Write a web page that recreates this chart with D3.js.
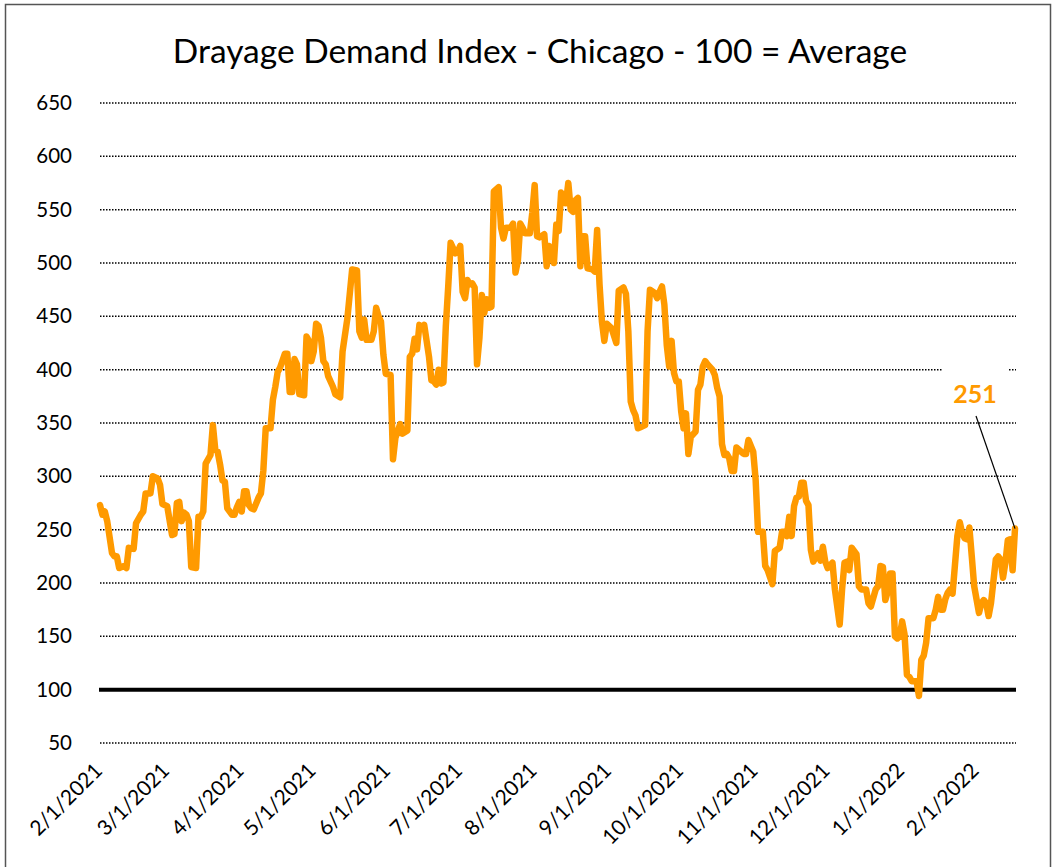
<!DOCTYPE html>
<html><head><meta charset="utf-8">
<script src="https://cdn.jsdelivr.net/npm/d3@7"></script>
<style>body{margin:0;background:#fff}</style>
</head><body><svg id="c" width="1056" height="867"></svg>
<script>
const title = "Drayage Demand Index - Chicago - 100 = Average";
const startDate = "2021-02-01";
const dayOffsets = [0,1,2,3,5,6,7,8,10,11,12,14,15,17,18,19,21,22,24,25,26,28,30,31,32,33,34,35,36,37,38,40,41,42,43,44,46,47,48,49,50,51,52,53,55,56,57,58,59,60,61,62,63,64,66,67,68,69,71,72,73,74,75,77,78,79,80,81,82,83,85,86,87,88,89,90,91,92,93,94,95,97,98,100,101,103,105,107,108,109,110,111,113,114,115,116,117,118,119,121,122,123,125,126,128,129,130,131,132,133,134,135,137,138,139,140,141,142,143,144,145,146,148,149,150,151,152,153,154,155,156,157,158,159,160,161,162,163,164,166,167,168,169,171,172,173,174,175,176,177,179,180,181,182,183,185,186,187,189,190,191,192,193,194,195,196,197,198,199,200,201,202,203,205,206,207,208,209,210,211,213,215,216,218,219,220,221,222,223,224,225,227,228,229,231,232,233,234,235,236,237,238,239,240,241,242,243,244,245,246,248,249,250,251,252,253,255,256,257,258,259,260,261,262,263,264,265,267,268,269,270,272,273,274,276,277,278,280,281,283,284,285,286,287,288,289,290,291,292,293,294,295,296,297,299,300,301,302,303,305,306,308,309,310,311,312,313,315,316,317,319,320,321,323,324,325,326,327,328,329,330,331,332,333,334,335,336,337,338,340,341,342,343,344,345,347,348,349,350,351,352,353,354,355,356,357,358,359,360,361,362,363,364,366,367,368,369,370,371,373,374,375,376,377,378,379,380,381];
const values = [273,264,267,258,228,225,225,214,216,214,233,232,256,264,267,284,284,300,298,292,274,272,245,246,275,276,258,266,264,258,215,214,262,262,267,312,320,348,325,323,311,296,295,270,264,264,271,276,267,286,286,273,270,269,280,284,305,345,345,372,384,398,402,415,415,379,379,410,405,377,376,431,427,408,417,443,441,430,408,405,394,384,377,374,417,448,494,493,436,430,447,428,428,436,458,450,445,414,396,395,316,336,349,340,343,412,415,429,419,442,439,442,412,390,389,386,400,387,388,441,478,519,509,511,516,473,467,484,480,481,477,405,430,470,453,466,458,459,567,571,533,523,533,533,537,491,502,537,533,528,528,547,573,525,524,527,497,516,500,536,530,566,562,556,575,550,548,559,561,497,525,525,495,494,492,531,480,445,427,443,439,425,474,477,471,436,370,362,357,345,346,348,436,475,472,467,473,478,461,423,403,427,397,389,389,361,345,359,321,337,342,381,386,403,408,405,400,395,383,375,330,320,321,317,305,305,327,323,321,321,334,323,297,248,248,216,212,199,230,233,248,248,244,262,244,272,280,281,294,294,277,273,231,220,228,221,234,220,214,219,194,161,194,219,220,212,233,227,197,194,194,181,178,194,197,216,215,184,192,209,209,150,148,150,164,152,114,112,108,108,94,128,132,144,167,167,175,187,175,175,185,191,194,190,217,244,257,247,242,241,252,225,197,172,181,184,181,169,181,222,225,222,205,219,240,241,212,251];
const yTicks = [50,100,150,200,250,300,350,400,450,500,550,600,650];
const xTickLabels = ["2/1/2021","3/1/2021","4/1/2021","5/1/2021","6/1/2021","7/1/2021","8/1/2021","9/1/2021","10/1/2021","11/1/2021","12/1/2021","1/1/2022","2/1/2022"];
const averageLevel = 100;
const lastLabel = "251";

const FONT = "Lato, 'Open Sans', sans-serif";
const ORANGE = "#FF9A00";
const svg = d3.select("#c");
const parseISO = d3.timeParse("%Y-%m-%d");
const parseMDY = d3.timeParse("%m/%d/%Y");
const t0 = parseISO(startDate);
const data = dayOffsets.map((d,i)=>({date: d3.timeDay.offset(t0, d), v: values[i]}));

const x = d3.scaleTime().domain([t0, data[data.length-1].date]).range([100, 1015]);
const y = d3.scaleLinear().domain([50, 650]).range([743, 103]);

// frame
svg.append("rect").attr("x",5.5).attr("y",4.5).attr("width",1045).attr("height",875)
  .attr("fill","none").attr("stroke","#555").attr("stroke-width",1.5);

// title
svg.append("text").attr("x",540).attr("y",63).attr("text-anchor","middle")
  .attr("font-family",FONT).attr("font-size",33.5).attr("fill","#000").text(title);

// y axis labels
const yAxis = d3.axisLeft(y).tickValues(yTicks).tickSize(0).tickPadding(0);
const gy = svg.append("g").attr("transform","translate(72,0)").call(yAxis);
gy.select(".domain").remove();
gy.selectAll("text").attr("font-family",FONT).attr("font-size",20.5).attr("fill","#000").attr("x",0);

// gridlines
svg.append("g").selectAll("line").data(yTicks.filter(v=>v!==averageLevel)).join("line")
  .attr("x1",100).attr("x2",1016).attr("y1",d=>y(d)).attr("y2",d=>y(d))
  .attr("stroke","#000").attr("stroke-width",1.5).attr("stroke-dasharray","1.5,1.5");

// average line
svg.append("line").attr("x1",99).attr("x2",1016).attr("y1",y(averageLevel)).attr("y2",y(averageLevel))
  .attr("stroke","#000").attr("stroke-width",4);

// x axis labels
const xTicks = xTickLabels.map(s=>parseMDY(s));
const xAxis = d3.axisBottom(x).tickValues(xTicks).tickSize(0).tickFormat((d,i)=>xTickLabels[i]);
const gx = svg.append("g").attr("transform","translate(0,757)").call(xAxis);
gx.select(".domain").remove();
gx.selectAll("text").attr("font-family",FONT).attr("font-size",21).attr("fill","#000")
  .attr("text-anchor","end").attr("dy",0).attr("y",0)
  .attr("transform","translate(3,15) rotate(-45)");

// series
svg.append("path").datum(data)
  .attr("d", d3.line().x(d=>x(d.date)).y(d=>y(d.v)))
  .attr("fill","none").attr("stroke",ORANGE).attr("stroke-width",6.5)
  .attr("stroke-linejoin","round").attr("stroke-linecap","round");

// last value annotation
const last = data[data.length-1];
svg.append("rect").attr("x",942).attr("y",362).attr("width",66).attr("height",56).attr("fill","#fff");
svg.append("text").attr("x",975).attr("y",403).attr("text-anchor","middle")
  .attr("font-family",FONT).attr("font-weight","bold").attr("font-size",25).attr("fill",ORANGE).text(lastLabel);
svg.append("line").attr("x1",976).attr("y1",416).attr("x2",x(last.date)).attr("y2",y(last.v))
  .attr("stroke","#000").attr("stroke-width",1.2);
</script></body></html>
